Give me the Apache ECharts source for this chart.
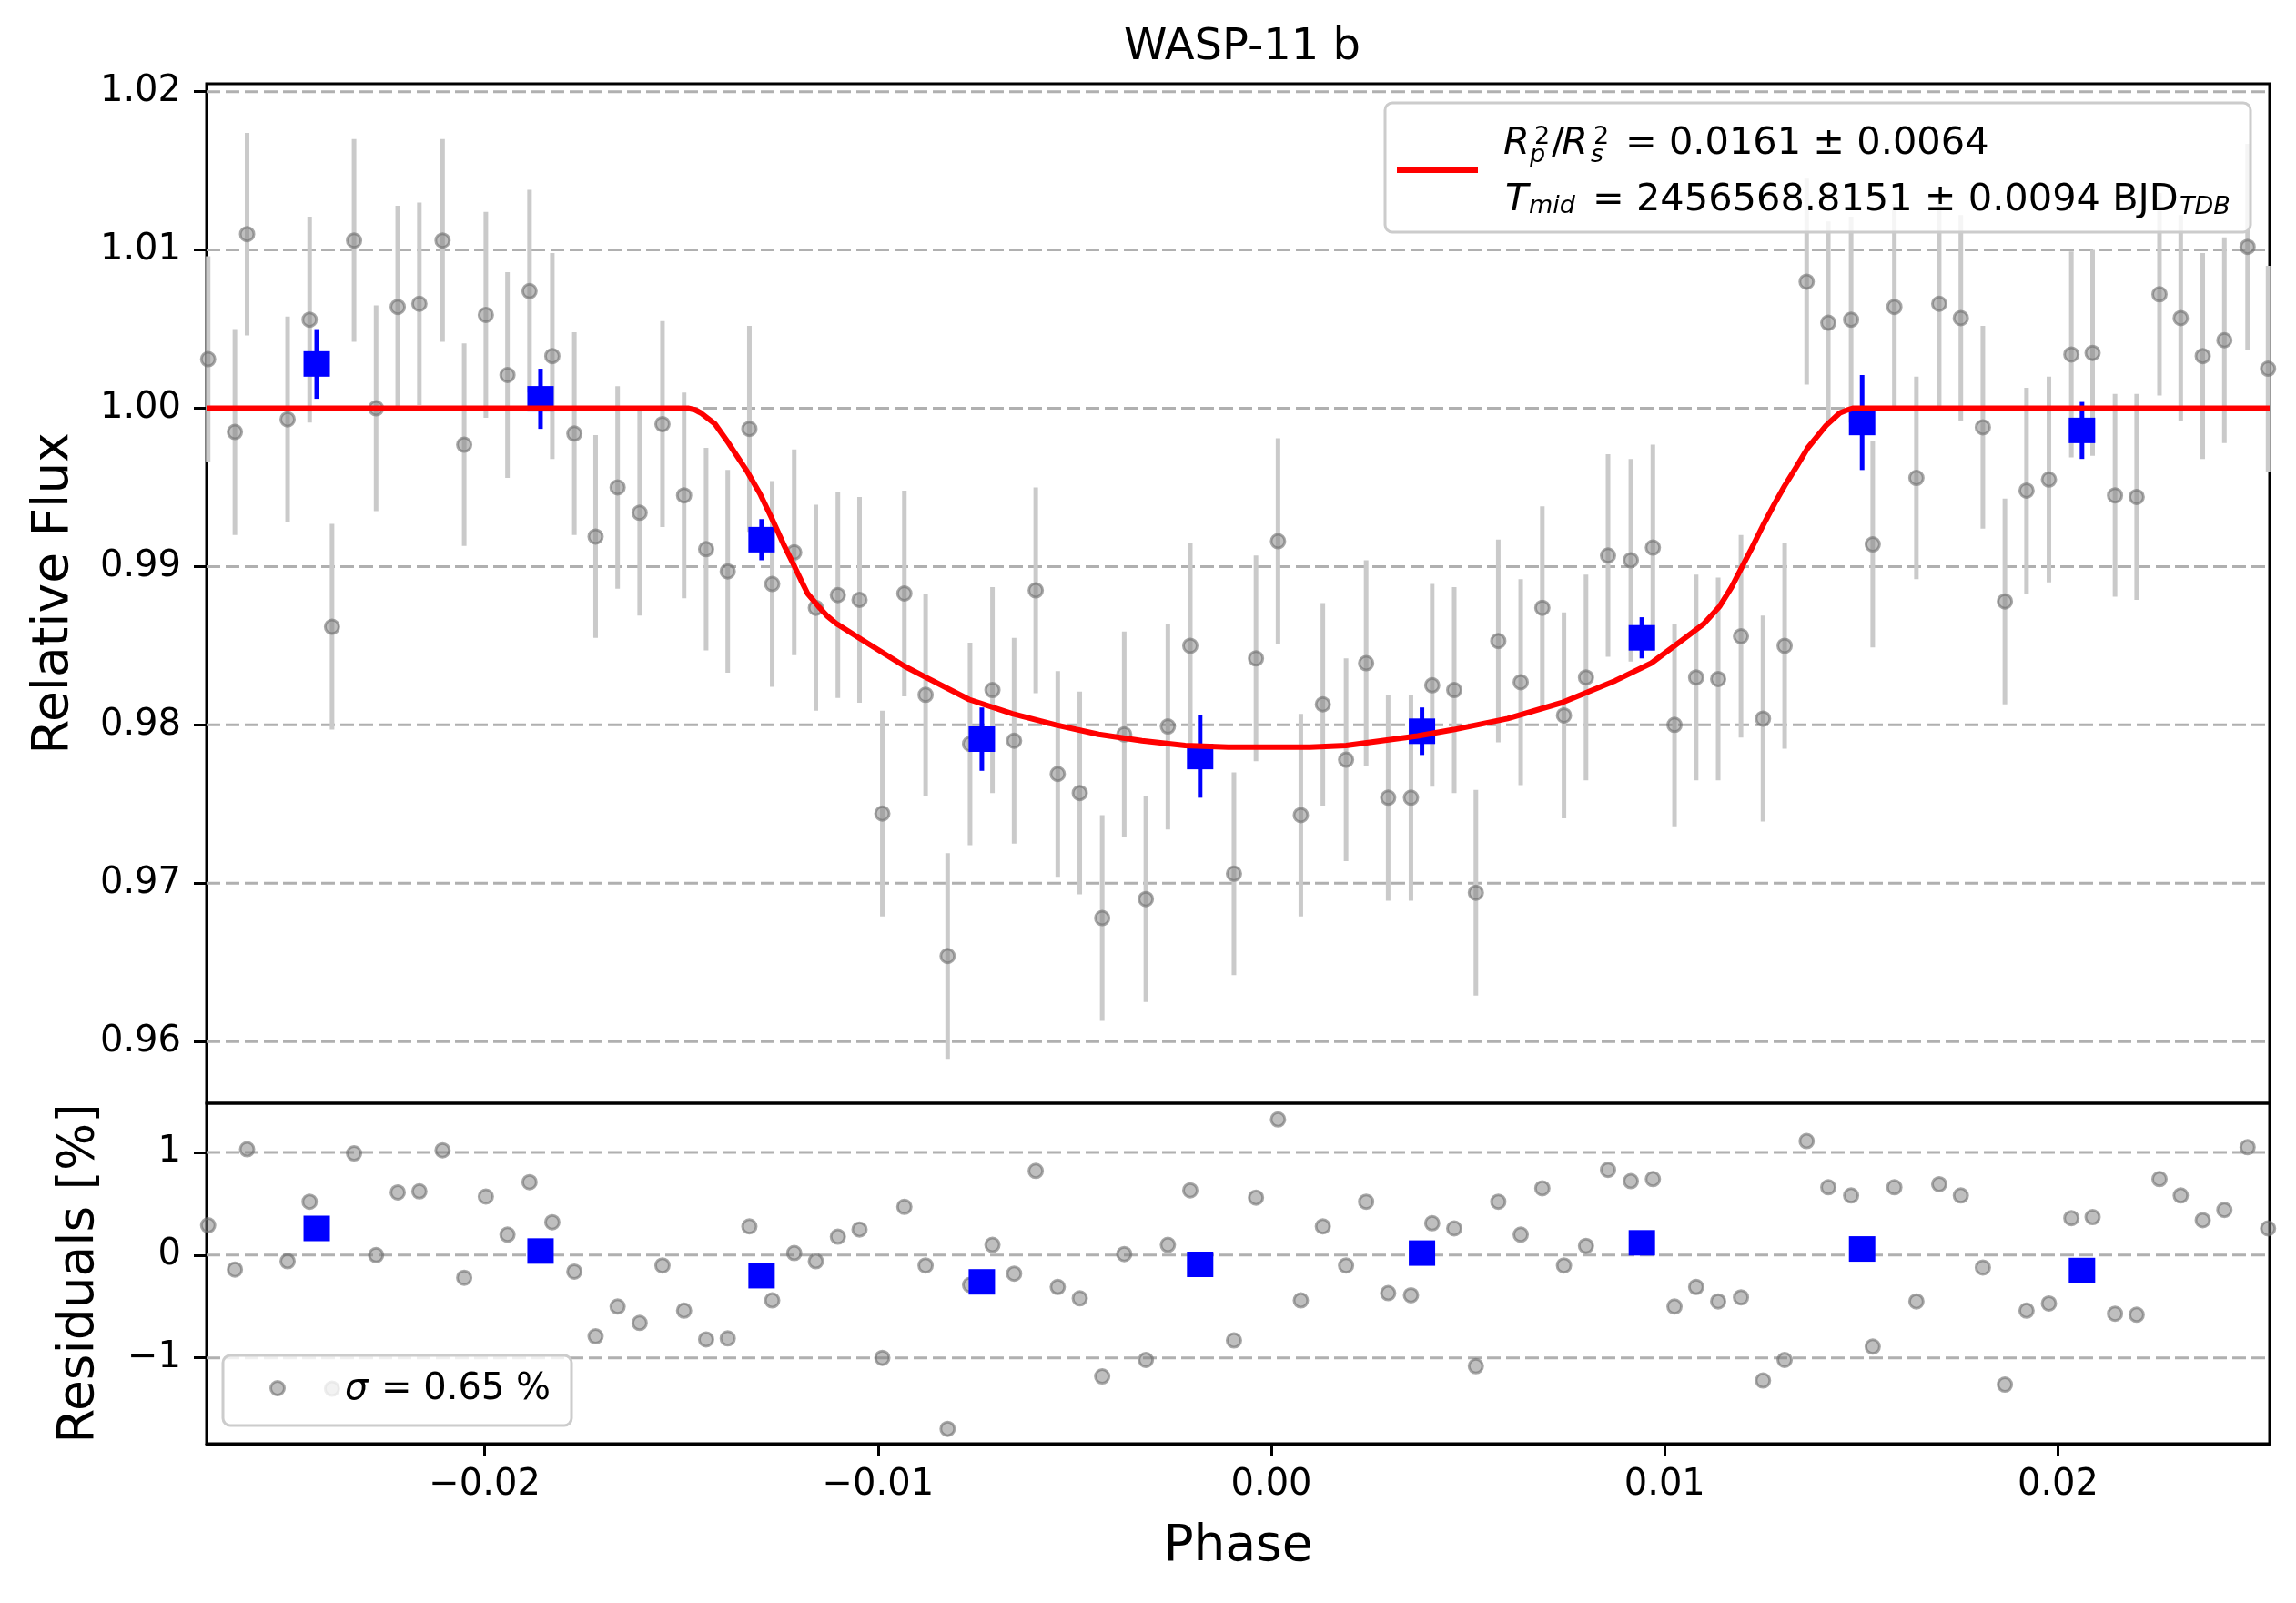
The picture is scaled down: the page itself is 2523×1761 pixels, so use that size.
<!DOCTYPE html>
<html>
<head>
<meta charset="utf-8">
<title>WASP-11 b</title>
<script src="https://cdn.jsdelivr.net/npm/echarts@6/dist/echarts.min.js"></script>
<style>
html, body { margin: 0; padding: 0; background: #fff; }
#main { width: 2523px; height: 1761px; }
</style>
</head>
<body>
<div id="main"></div>
<script type="text/javascript">
// phase of every unbinned exposure
var PHASE = [-0.02703, -0.02635, -0.02604, -0.02501, -0.02445, -0.02388, -0.02332, -0.02276, -0.02221, -0.02166,
    -0.02107, -0.02052, -0.01997, -0.01942, -0.01886, -0.01828, -0.01772, -0.01718, -0.01662, -0.01606,
    -0.01548, -0.01493, -0.01437, -0.01382, -0.01327, -0.01269, -0.01213, -0.01158, -0.01102, -0.01047,
    -0.00989, -0.00933, -0.00879, -0.00823, -0.00766, -0.00709, -0.00654, -0.00599, -0.00543, -0.00487,
    -0.00430, -0.00374, -0.00319, -0.00263, -0.00206, -0.00095, -0.00039, 0.00017, 0.00075, 0.00131,
    0.00190, 0.00241, 0.00297, 0.00355, 0.00409, 0.00465, 0.00520, 0.00577, 0.00634, 0.00689,
    0.00744, 0.00800, 0.00856, 0.00914, 0.00970, 0.01025, 0.01080, 0.01136, 0.01194, 0.01250,
    0.01305, 0.01361, 0.01416, 0.01474, 0.01529, 0.01584, 0.01640, 0.01698, 0.01753, 0.01809,
    0.01865, 0.01920, 0.01977, 0.02034, 0.02088, 0.02145, 0.02200, 0.02258, 0.02312, 0.02368,
    0.02423, 0.02482, 0.02534];
var FLUX = [1.0031, 0.9985, 1.0110, 0.9993, 1.0056, 0.9862, 1.0106, 1.0000, 1.0064, 1.0066,
    1.0106, 0.9977, 1.0059, 1.0021, 1.0074, 1.0033, 0.9984, 0.9919, 0.9950, 0.9934,
    0.9990, 0.9945, 0.9911, 0.9897, 0.9987, 0.9889, 0.9909, 0.9874, 0.9882, 0.9879,
    0.9744, 0.9883, 0.9819, 0.9654, 0.9788, 0.9822, 0.9790, 0.9885, 0.9769, 0.9757,
    0.9678, 0.9794, 0.9690, 0.9799, 0.9850, 0.9706, 0.9842, 0.9916, 0.9743, 0.9813,
    0.9778, 0.9839, 0.9754, 0.9754, 0.9825, 0.9822, 0.9694, 0.9853, 0.9827, 0.9874,
    0.9806, 0.9830, 0.9907, 0.9904, 0.9912, 0.9800, 0.9830, 0.9829, 0.9856, 0.9804,
    0.9850, 1.0080, 1.0054, 1.0056, 0.9914, 1.0064, 0.9956, 1.0066, 1.0057, 0.9988,
    0.9878, 0.9948, 0.9955, 1.0034, 1.0035, 0.9945, 0.9944, 1.0072, 1.0057, 1.0033,
    1.0043, 1.0102, 1.0025];
var FLUX_ERR = [0.0065, 0.0065, 0.0064, 0.0065, 0.0065, 0.0065, 0.0064, 0.0065, 0.0064, 0.0064,
    0.0064, 0.0064, 0.0065, 0.0065, 0.0064, 0.0065, 0.0064, 0.0064, 0.0064, 0.0065,
    0.0065, 0.0065, 0.0064, 0.0064, 0.0065, 0.0065, 0.0065, 0.0065, 0.0065, 0.0065,
    0.0065, 0.0065, 0.0064, 0.0065, 0.0064, 0.0065, 0.0065, 0.0065, 0.0065, 0.0064,
    0.0065, 0.0065, 0.0065, 0.0065, 0.0065, 0.0064, 0.0065, 0.0065, 0.0064, 0.0064,
    0.0064, 0.0065, 0.0065, 0.0065, 0.0064, 0.0065, 0.0065, 0.0064, 0.0065, 0.0064,
    0.0065, 0.0065, 0.0064, 0.0064, 0.0065, 0.0064, 0.0065, 0.0064, 0.0064, 0.0065,
    0.0065, 0.0065, 0.0064, 0.0065, 0.0065, 0.0065, 0.0064, 0.0065, 0.0065, 0.0064,
    0.0065, 0.0065, 0.0065, 0.0065, 0.0065, 0.0064, 0.0065, 0.0064, 0.0065, 0.0065,
    0.0065, 0.0065, 0.0065];
// residuals in percent
var RESID = [0.29, -0.14, 1.03, -0.06, 0.52, -1.30, 0.99, 0.00, 0.61, 0.62,
    1.02, -0.22, 0.57, 0.20, 0.71, 0.32, -0.16, -0.79, -0.50, -0.66,
    -0.10, -0.54, -0.82, -0.81, 0.28, -0.44, 0.02, -0.06, 0.18, 0.25,
    -1.00, 0.47, -0.10, -1.69, -0.29, 0.10, -0.18, 0.82, -0.31, -0.42,
    -1.18, 0.01, -1.02, 0.10, 0.63, -0.83, 0.56, 1.32, -0.44, 0.28,
    -0.10, 0.52, -0.37, -0.39, 0.31, 0.26, -1.08, 0.52, 0.20, 0.65,
    -0.10, 0.09, 0.83, 0.72, 0.74, -0.50, -0.31, -0.45, -0.41, -1.22,
    -1.02, 1.11, 0.66, 0.58, -0.89, 0.66, -0.45, 0.69, 0.58, -0.12,
    -1.26, -0.54, -0.47, 0.36, 0.37, -0.57, -0.58, 0.74, 0.58, 0.34,
    0.44, 1.05, 0.26];

// binned points
var BIN_PHASE = [-0.02427, -0.01858, -0.01296, -0.00736, -0.00181, 0.00383, 0.00942, 0.01502, 0.02061];
var BIN_FLUX = [1.0028, 1.0006, 0.9917, 0.9791, 0.9780, 0.9796, 0.9855, 0.9991, 0.9986];
var BIN_ERR = [0.0022, 0.0019, 0.0013, 0.0020, 0.0026, 0.0015, 0.0013, 0.0030, 0.0018];
var BIN_RESID = [0.26, 0.04, -0.20, -0.26, -0.09, 0.02, 0.12, 0.06, -0.15];

// transit model
var MODEL_PHASE = [-0.02707, -0.01483, -0.01465, -0.01450, -0.01414, -0.01380, -0.01335, -0.01300, -0.01271, -0.01240,
    -0.01216, -0.01195, -0.01179, -0.01152, -0.01130, -0.01106, -0.01042, -0.00932, -0.00878, -0.00768,
    -0.00658, -0.00548, -0.00439, -0.00329, -0.00219, -0.00110, 0.00000, 0.00098, 0.00190, 0.00281,
    0.00372, 0.00463, 0.00601, 0.00738, 0.00875, 0.00966, 0.01058, 0.01100, 0.01140, 0.01170,
    0.01195, 0.01220, 0.01250, 0.01280, 0.01305, 0.01335, 0.01364, 0.01410, 0.01445, 0.01465,
    0.01478, 0.02538];
var MODEL_FLUX = [1.0000, 1.0000, 0.9999, 0.9997, 0.9990, 0.9978, 0.9961, 0.9946, 0.9931, 0.9914,
    0.9902, 0.9891, 0.9883, 0.9875, 0.9869, 0.9864, 0.9854, 0.9837, 0.9830, 0.9816,
    0.9807, 0.9800, 0.9794, 0.9790, 0.9787, 0.9786, 0.9786, 0.9786, 0.9787, 0.9790,
    0.9793, 0.9797, 0.9804, 0.9814, 0.9828, 0.9839, 0.9856, 0.9864, 0.9875, 0.9887,
    0.9899, 0.9911, 0.9926, 0.9940, 0.9951, 0.9963, 0.9975, 0.9989, 0.9997, 0.9999,
    1.0000, 1.0000];

// axes
var X_MIN = -0.02707, X_MAX = 0.02538;
var X_TICKS = [-0.02, -0.01, 0.00, 0.01, 0.02];
var FLUX_MIN = 0.9561, FLUX_MAX = 1.0205;
var FLUX_TICKS = [0.96, 0.97, 0.98, 0.99, 1.00, 1.01, 1.02];
var RESID_MIN = -1.835, RESID_MAX = 1.478;
var RESID_TICKS = [-1, 0, 1];

var FONT = 'DejaVu Sans';
var myChart = echarts.init(document.getElementById('main'));

function minus(s) { return s.replace('-', '\u2212'); }

// dashed horizontal grid line at every tick
function gridRender(params, api) {
    var cs = params.coordSys;
    var y = api.coord([X_MIN, api.value(1)])[1];
    return {
        type: 'line',
        shape: { x1: cs.x, y1: y, x2: cs.x + cs.width, y2: y },
        style: { stroke: '#b0b0b0', lineWidth: 3, lineDash: [15, 6] }
    };
}
function errRender(color, width) {
    return function (params, api) {
        var p1 = api.coord([api.value(0), api.value(1)]);
        var p2 = api.coord([api.value(0), api.value(2)]);
        return {
            type: 'line',
            shape: { x1: p1[0], y1: p1[1], x2: p2[0], y2: p2[1] },
            style: { stroke: color, lineWidth: width }
        };
    };
}

var grayPoint = {
    color: 'rgba(128,128,128,0.5)',
    borderColor: 'rgba(110,110,110,0.6)',
    borderWidth: 3,
    opacity: 1
};
var bluePoint = { color: '#0000ff', opacity: 1 };
var tickStyle = { show: true, inside: false, length: 14, lineStyle: { color: '#000', width: 3 } };
var labelStyle = { fontSize: 40, fontFamily: FONT, color: '#000' };
var mainFont = '41.5px "DejaVu Sans"';
var mainItalic = 'italic 41.5px "DejaVu Sans"';
var subFont = '27px "DejaVu Sans"';
var subItalic = 'italic 27px "DejaVu Sans"';

function txt(x, y, text, font) {
    return { type: 'text', z: 101, x: x, y: y,
             style: { text: text, font: font, fill: '#000', textVerticalAlign: 'middle' } };
}

var option = {
    animation: false,
    backgroundColor: '#fff',
    title: {
        text: 'WASP-11 b',
        left: 1360,
        top: 24,
        textAlign: 'center',
        textStyle: { fontSize: 48, fontWeight: 'normal', fontFamily: FONT, color: '#000' }
    },
    grid: [
        { left: 227, top: 92, width: 2267, height: 1120, show: true, borderColor: '#000', borderWidth: 3, backgroundColor: 'transparent' },
        { left: 227, top: 1212, width: 2267, height: 374, show: true, borderColor: '#000', borderWidth: 3, backgroundColor: 'transparent' }
    ],
    xAxis: [
        {
            type: 'value', gridIndex: 0, min: X_MIN, max: X_MAX,
            axisLine: { show: false }, axisTick: { show: false }, axisLabel: { show: false }, splitLine: { show: false }
        },
        {
            type: 'value', gridIndex: 1, min: X_MIN, max: X_MAX,
            axisLine: { show: true, onZero: false, lineStyle: { color: '#000', width: 3 } },
            axisTick: Object.assign({ customValues: X_TICKS }, tickStyle),
            axisLabel: Object.assign({
                customValues: X_TICKS, margin: 26,
                formatter: function (v) { return minus(v.toFixed(2)); }
            }, labelStyle),
            splitLine: { show: false },
            name: 'Phase', nameLocation: 'middle', nameGap: 86,
            nameTextStyle: { fontSize: 55, fontFamily: FONT, color: '#000' }
        }
    ],
    yAxis: [
        {
            type: 'value', gridIndex: 0, min: FLUX_MIN, max: FLUX_MAX,
            axisLine: { show: true, onZero: false, lineStyle: { color: '#000', width: 3 } },
            axisTick: Object.assign({ customValues: FLUX_TICKS }, tickStyle),
            axisLabel: Object.assign({
                customValues: FLUX_TICKS, margin: 28,
                formatter: function (v) { return v.toFixed(2); }
            }, labelStyle),
            splitLine: { show: false },
            name: 'Relative Flux', nameLocation: 'middle', nameGap: 140,
            nameTextStyle: { fontSize: 55, fontFamily: FONT, color: '#000' }
        },
        {
            type: 'value', gridIndex: 1, min: RESID_MIN, max: RESID_MAX,
            axisLine: { show: true, onZero: false, lineStyle: { color: '#000', width: 3 } },
            axisTick: Object.assign({ customValues: RESID_TICKS }, tickStyle),
            axisLabel: Object.assign({
                customValues: RESID_TICKS, margin: 28,
                formatter: function (v) { return minus(String(v)); }
            }, labelStyle),
            splitLine: { show: false },
            name: 'Residuals [%]', nameLocation: 'middle', nameGap: 112,
            nameTextStyle: { fontSize: 55, fontFamily: FONT, color: '#000' }
        }
    ],
    series: [
        {
            name: 'grid-top', type: 'custom', xAxisIndex: 0, yAxisIndex: 0, z: 1, silent: true,
            renderItem: gridRender,
            data: FLUX_TICKS.map(function (v) { return [X_MIN, v]; })
        },
        {
            name: 'grid-bottom', type: 'custom', xAxisIndex: 1, yAxisIndex: 1, z: 1, silent: true,
            renderItem: gridRender,
            data: RESID_TICKS.map(function (v) { return [X_MIN, v]; })
        },
        {
            name: 'flux-err', type: 'custom', xAxisIndex: 0, yAxisIndex: 0, z: 2,
            renderItem: errRender('#cacaca', 5),
            encode: { x: 0, y: [1, 2] },
            data: PHASE.map(function (p, i) { return [p, FLUX[i] - FLUX_ERR[i], FLUX[i] + FLUX_ERR[i]]; })
        },
        {
            name: 'flux', type: 'scatter', xAxisIndex: 0, yAxisIndex: 0, z: 3,
            symbol: 'circle', symbolSize: 15, itemStyle: grayPoint,
            data: PHASE.map(function (p, i) { return [p, FLUX[i]]; })
        },
        {
            name: 'bin-err', type: 'custom', xAxisIndex: 0, yAxisIndex: 0, z: 4,
            renderItem: errRender('#0000ff', 5),
            encode: { x: 0, y: [1, 2] },
            data: BIN_PHASE.map(function (p, i) { return [p, BIN_FLUX[i] - BIN_ERR[i], BIN_FLUX[i] + BIN_ERR[i]]; })
        },
        {
            name: 'bin', type: 'scatter', xAxisIndex: 0, yAxisIndex: 0, z: 5,
            symbol: 'rect', symbolSize: [29, 28], itemStyle: bluePoint,
            data: BIN_PHASE.map(function (p, i) { return [p, BIN_FLUX[i]]; })
        },
        {
            name: 'model', type: 'line', xAxisIndex: 0, yAxisIndex: 0, z: 6,
            showSymbol: false, smooth: false,
            lineStyle: { color: '#ff0000', width: 6 },
            data: MODEL_PHASE.map(function (p, i) { return [p, MODEL_FLUX[i]]; })
        },
        {
            name: 'resid', type: 'scatter', xAxisIndex: 1, yAxisIndex: 1, z: 3,
            symbol: 'circle', symbolSize: 15, itemStyle: grayPoint,
            data: PHASE.map(function (p, i) { return [p, RESID[i]]; })
        },
        {
            name: 'bin-resid', type: 'scatter', xAxisIndex: 1, yAxisIndex: 1, z: 5,
            symbol: 'rect', symbolSize: [29, 28], itemStyle: bluePoint,
            data: BIN_PHASE.map(function (p, i) { return [p, BIN_RESID[i]]; })
        }
    ],
    graphic: [
        // upper legend
        { type: 'rect', z: 100, shape: { x: 1522, y: 113, width: 951, height: 142, r: 8 },
          style: { fill: 'rgba(255,255,255,0.8)', stroke: '#cccccc', lineWidth: 3 } },
        { type: 'line', z: 101, shape: { x1: 1535, y1: 187, x2: 1624, y2: 187 },
          style: { stroke: '#ff0000', lineWidth: 6 } },
        txt(1652, 158, 'R', mainItalic),
        txt(1686, 151, '2', subFont),
        txt(1681, 171, 'p', subItalic),
        txt(1705, 158, '/', mainFont),
        txt(1716, 158, 'R', mainItalic),
        txt(1751, 151, '2', subFont),
        txt(1748, 171, 's', subItalic),
        txt(1786, 158, '= 0.0161 \u00b1 0.0064', mainFont),
        txt(1654, 220, 'T', mainItalic),
        txt(1680, 227, 'mid', subItalic),
        txt(1750, 220, '= 2456568.8151 \u00b1 0.0094 BJD', mainFont),
        txt(2395, 228, 'TDB', subItalic),
        // lower legend
        { type: 'rect', z: 100, shape: { x: 245, y: 1489, width: 383, height: 77, r: 8 },
          style: { fill: 'rgba(255,255,255,0.8)', stroke: '#cccccc', lineWidth: 3 } },
        { type: 'circle', z: 101, shape: { cx: 305, cy: 1525, r: 7.5 },
          style: { fill: 'rgba(128,128,128,0.5)', stroke: 'rgba(110,110,110,0.6)', lineWidth: 3 } },
        txt(379, 1527, '\u03c3', 'italic 40px "DejaVu Sans"'),
        txt(419, 1527, '= 0.65 %', '40px "DejaVu Sans"')
    ]
};

myChart.setOption(option);
</script>
</body>
</html>
